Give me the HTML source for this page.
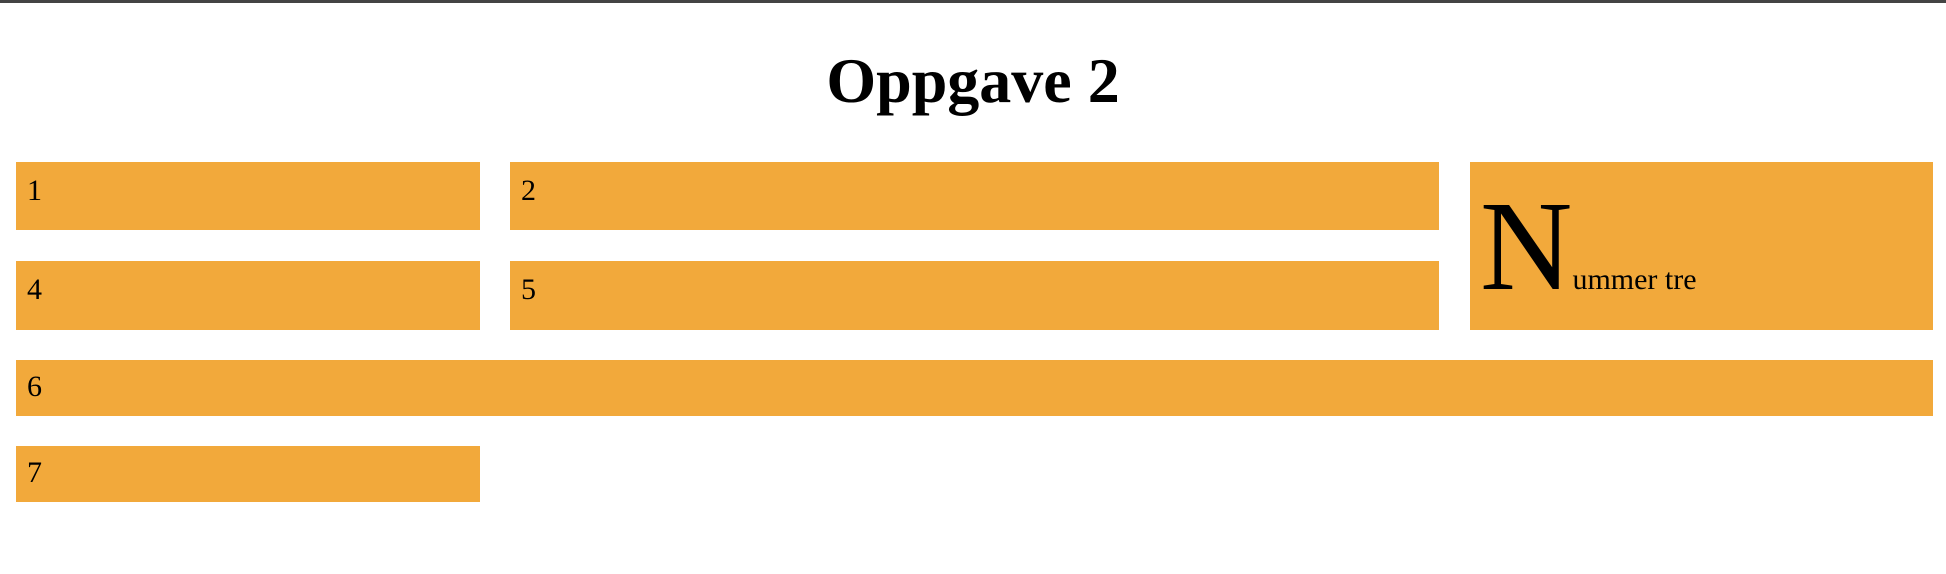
<!DOCTYPE html>
<html><head><meta charset="utf-8"><style>
html,body{margin:0;padding:0;width:1946px;height:574px;overflow:hidden;background:#fff;font-family:"Liberation Serif",serif;}
.top{position:absolute;left:0;top:0;width:1946px;height:3px;background:#444;}
h1{position:absolute;left:0;width:1946px;top:41px;margin:0;text-align:center;font-size:64px;font-weight:bold;line-height:80px;}
.b{position:absolute;background:#f2a93b;font-size:30px;line-height:30px;}
.b span{position:absolute;left:11px;top:14px;}
</style></head><body>
<div class="top"></div>
<h1>Oppgave 2</h1>
<div class="b" style="left:16px;top:162px;width:464px;height:68px"><span>1</span></div>
<div class="b" style="left:510px;top:162px;width:929px;height:68px"><span>2</span></div>
<div class="b" style="left:1470px;top:162px;width:463px;height:168px">
<div style="position:absolute;left:10px;top:20px;height:125px;white-space:nowrap;"><span style="position:static;font-size:128px;line-height:128px;vertical-align:baseline">N</span><span style="position:static;font-size:30px;vertical-align:baseline">ummer tre</span></div>
</div>
<div class="b" style="left:16px;top:261px;width:464px;height:69px"><span>4</span></div>
<div class="b" style="left:510px;top:261px;width:929px;height:69px"><span>5</span></div>
<div class="b" style="left:16px;top:360px;width:1917px;height:56px"><span style="top:12px">6</span></div>
<div class="b" style="left:16px;top:446px;width:464px;height:56px"><span style="top:12px">7</span></div>
</body></html>
